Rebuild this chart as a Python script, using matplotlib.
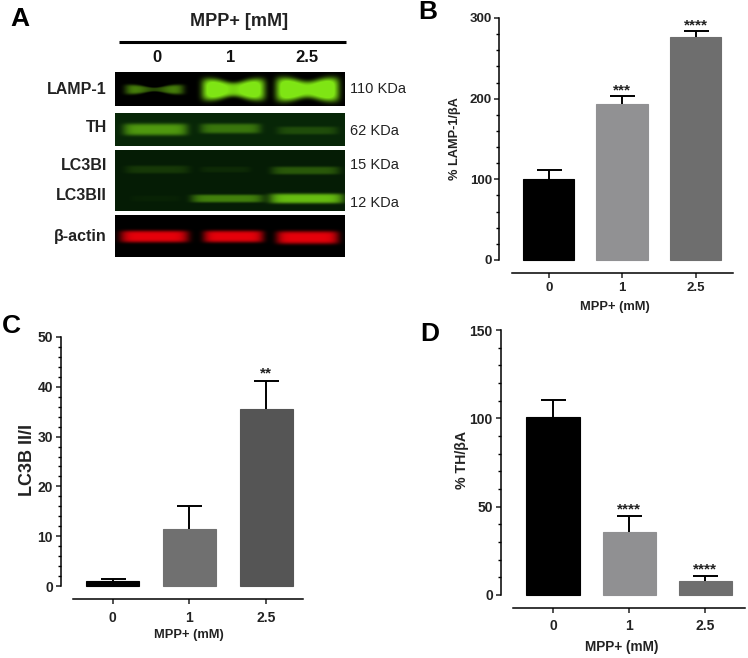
import numpy as np
import matplotlib
matplotlib.use("Agg")
import matplotlib.pyplot as plt
from matplotlib.ticker import AutoMinorLocator

plt.rcParams['font.family'] = ['Liberation Sans', 'DejaVu Sans']
plt.rcParams['font.weight'] = 'bold'
plt.rcParams['axes.labelweight'] = 'bold'

W, H = 748, 658

doses = ['0', '1', '2.5']

# bar panels: means and top of the error bars
lamp_means = [100, 193, 276]
lamp_tops = [112, 203, 284]
lamp_stars = ['', '***', '****']

lc3_means = [1, 11.5, 35.5]
lc3_tops = [1.4, 16, 41.2]
lc3_stars = ['', '', '**']

th_means = [100.5, 35.5, 8]
th_tops = [110.5, 44.5, 10.5]
th_stars = ['', '****', '****']

# blot band strength per lane, 0 to 1 (above 1 saturates)
lamp_bands = [0.6, 1.3, 1.35]
th_bands = [0.6, 0.42, 0.2]
lc3b1_bands = [0.14, 0.07, 0.3]
lc3b2_bands = [0.03, 0.5, 0.8]
actin_bands = [1.0, 1.0, 1.0]

blot_labels = ['LAMP-1', 'TH', 'LC3BI', 'LC3BII', 'β-actin']
kda_labels = ['110 KDa', '62 KDa', '15 KDa', '12 KDa']


def px_axes(fig, left, top, right, bottom):
    return fig.add_axes([left / W, 1 - bottom / H, (right - left) / W, (bottom - top) / H])


def band(img, strength, xc, hw, yc, sig, waist=0.0):
    # img covers the blot in pixels, one band gets added to it
    yy, xx = np.mgrid[0:img.shape[0], 0:img.shape[1]]
    dx = (xx - xc) / hw
    pinch = np.exp(-(dx / 0.45) ** 2)
    s = sig * (1 - waist * pinch)
    dy = (yy - yc) / s
    img += strength * np.exp(-dx ** 8) * np.exp(-dy ** 4) * (1 - 0.8 * waist * pinch)


def show_blot(ax, img, extent, bg, col):
    img = np.clip(img, 0, 1)[..., None]
    rgb = np.array(bg) * (1 - img) + np.array(col) * img
    ax.imshow(rgb, extent=extent, aspect='auto', interpolation='bilinear')


def bar_panel(fig, box, xlim, width, means, tops, stars, colors, ymax, major, ylabel, sizes,
              ylab_px, xlab_px, star_off, tick_pad):
    left, top, right, bottom = box
    tick_size, ylab_size, xlab_size = sizes
    ax = px_axes(fig, left, top, right, bottom)
    x = np.arange(len(means))
    ax.bar(x, means, width=width, color=colors, edgecolor=colors, linewidth=0.8, clip_on=False)
    ax.vlines(x, means, tops, color='black', lw=1.4)
    ax.plot(x, tops, '_', color='black', ms=18, mew=1.4, clip_on=False)
    for xi, t, s in zip(x, tops, stars):
        if s:
            ax.annotate(s, (xi, t), xytext=(0, star_off), textcoords='offset points',
                        ha='center', va='center', fontsize=11, color='#222222')
    ax.set_xlim(*xlim)
    ax.set_ylim(0, ymax)
    ax.set_xticks(x, doses)
    ax.set_yticks(np.arange(0, ymax + 1, major))
    ax.yaxis.set_minor_locator(AutoMinorLocator(5))
    for side in ['top', 'right']:
        ax.spines[side].set_visible(False)
    ax.spines['left'].set_position(('outward', 9))
    ax.spines['bottom'].set_position(('outward', 9.5))
    ax.spines['left'].set_linewidth(1.1)
    ax.spines['bottom'].set_linewidth(1.1)
    ax.tick_params(axis='both', which='major', length=3.5, width=1.1, labelsize=tick_size, colors='#222222')
    ax.tick_params(axis='x', which='major', pad=tick_pad)
    ax.tick_params(axis='y', which='major', pad=2)
    ax.tick_params(axis='y', which='minor', length=2, width=1)
    ax.patch.set_alpha(0)
    ax.set_ylabel(ylabel, fontsize=ylab_size, color='#222222', va='center')
    ax.set_xlabel('MPP+ (mM)', fontsize=xlab_size, color='#222222', va='center')
    ax.yaxis.set_label_coords((ylab_px[0] - left) / (right - left), (bottom - ylab_px[1]) / (bottom - top))
    ax.xaxis.set_label_coords((xlab_px[0] - left) / (right - left), (bottom - xlab_px[1]) / (bottom - top))
    return ax


fig = plt.figure(figsize=(W / 100, H / 100), dpi=100)

# panel A is laid out in image pixels
bg_ax = fig.add_axes([0, 0, 1, 1])

BLACK = (0, 0, 0)
DARK = (0.03, 0.15, 0.03)
DARK2 = (0.02, 0.11, 0.02)
GREEN = (0.50, 0.90, 0.08)
RED = (0.90, 0.0, 0.04)

img = np.zeros((34, 230))
band(img, lamp_bands[0], 39, 29, 17, 5, waist=0.6)
band(img, lamp_bands[1], 118, 31, 17, 11, waist=0.35)
band(img, lamp_bands[2], 192, 31, 17, 12, waist=0.3)
show_blot(bg_ax, img, (115, 345, 106, 72), BLACK, GREEN)

img = np.zeros((33, 230))
band(img, th_bands[0], 40, 32, 16, 6)
band(img, th_bands[1], 115, 30, 15, 5)
band(img, th_bands[2], 192, 30, 17, 4)
show_blot(bg_ax, img, (115, 345, 146, 113), DARK, GREEN)

img = np.zeros((61, 230))
band(img, lc3b1_bands[0], 42, 32, 19, 4)
band(img, lc3b1_bands[1], 110, 25, 19, 3)
band(img, lc3b1_bands[2], 190, 34, 20, 4)
band(img, lc3b2_bands[0], 40, 25, 48, 3)
band(img, lc3b2_bands[1], 112, 36, 48, 4)
band(img, lc3b2_bands[2], 191, 37, 48, 5)
show_blot(bg_ax, img, (115, 345, 211, 150), DARK2, GREEN)

img = np.zeros((42, 230))
band(img, actin_bands[0], 39, 34, 21, 6)
band(img, actin_bands[1], 118, 30, 21, 6)
band(img, actin_bands[2], 192, 31, 22, 6.5)
show_blot(bg_ax, img, (115, 345, 257, 215), BLACK, RED)
bg_ax.set_xlim(0, W)
bg_ax.set_ylim(H, 0)
bg_ax.axis('off')

bg_ax.plot([119, 346], [42, 42], color='black', lw=2.2, solid_capstyle='butt')
bg_ax.text(239, 21, 'MPP+ [mM]', ha='center', va='center', fontsize=13, color='#222222')
for xp, d in zip([157, 231, 307], doses):
    bg_ax.text(xp, 57, d, ha='center', va='center', fontsize=12, color='#111111')
for yp, lab in zip([89, 128, 165, 196, 236], blot_labels):
    bg_ax.text(107, yp, lab, ha='right', va='center', fontsize=11.5, color='#222222')
for yp, lab in zip([89, 131, 165, 203], kda_labels):
    bg_ax.text(350, yp, lab, ha='left', va='center', fontsize=10.5, fontweight='normal', color='#222222')

for xp, yp, lab in [(10, 19, 'A'), (418, 12, 'B'), (2, 326, 'C'), (420, 334, 'D')]:
    bg_ax.text(xp, yp, lab, ha='left', va='center', fontsize=19, color='black')

bar_panel(fig, (512, 18, 733, 260), (-0.5, 2.51), 0.70, lamp_means, lamp_tops, lamp_stars,
          ['black', '#919193', '#6e6e6e'], 300, 100, '% LAMP-1/βA', (9.5, 9.2, 9.3),
          (455, 139), (615, 307), 4, 3)
bar_panel(fig, (73, 337, 303, 586), (-0.515, 2.48), 0.69, lc3_means, lc3_tops, lc3_stars,
          ['black', '#707070', '#555555'], 50, 10, 'LC3B II/I', (10, 13, 9.3),
          (27, 460), (189, 635), 5, 5)
bar_panel(fig, (513, 330, 745, 595), (-0.525, 2.52), 0.70, th_means, th_tops, th_stars,
          ['black', '#909092', '#6e6e6e'], 150, 50, '% TH/βA', (10, 10.2, 9.8),
          (462, 460), (622, 647), 5, 4)

fig.savefig('out.png', dpi=100)
